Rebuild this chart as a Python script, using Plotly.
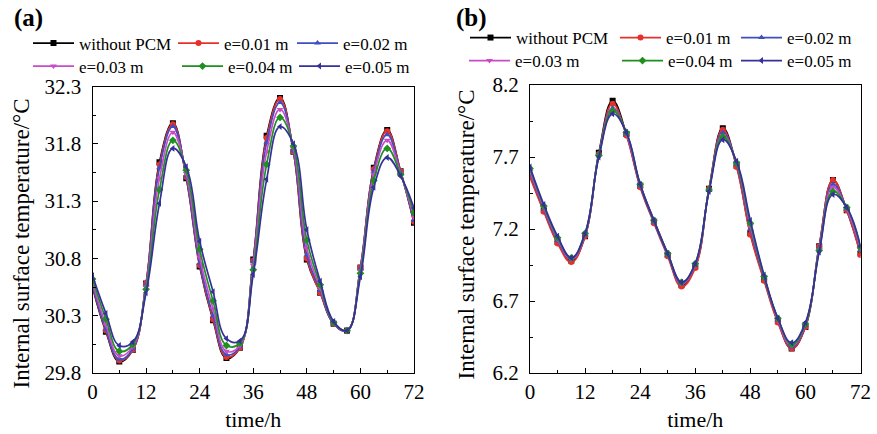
import plotly.graph_objects as go

# ---------------- data ----------------
hours = [0, 3, 6, 9, 12, 15, 18, 21, 24, 27, 30, 33, 36, 39, 42, 45, 48, 51, 54, 57, 60, 63, 66, 69, 72]
names = ["without PCM", "e=0.01 m", "e=0.02 m", "e=0.03 m", "e=0.04 m", "e=0.05 m"]
x_ticks = [0, 12, 24, 36, 48, 60, 72]
ya_ticks = [29.8, 30.3, 30.8, 31.3, 31.8, 32.3]
yb_ticks = [6.2, 6.7, 7.2, 7.7, 8.2]
y_title = "Internal surface temperature/°C"
x_title = "time/h"

# panel (a)
a_none = [30.55, 30.16, 29.90, 30.00, 30.58, 31.64, 31.98, 31.50, 30.73, 30.26, 29.93, 30.02, 30.79,
          31.87, 32.20, 31.73, 30.79, 30.50, 30.23, 30.17, 30.72, 31.59, 31.92, 31.56, 31.11]
a_e01 = [30.56, 30.17, 29.91, 30.00, 30.58, 31.62, 31.97, 31.51, 30.74, 30.27, 29.94, 30.02, 30.78,
         31.85, 32.19, 31.73, 30.80, 30.50, 30.23, 30.17, 30.72, 31.58, 31.91, 31.56, 31.12]
a_e02 = [30.57, 30.18, 29.92, 30.01, 30.57, 31.59, 31.95, 31.52, 30.76, 30.30, 29.96, 30.03, 30.77,
         31.81, 32.16, 31.74, 30.83, 30.52, 30.23, 30.17, 30.71, 31.56, 31.88, 31.55, 31.13]
a_e03 = [30.59, 30.22, 29.95, 30.03, 30.55, 31.50, 31.90, 31.54, 30.81, 30.36, 29.99, 30.04, 30.74,
         31.73, 32.10, 31.76, 30.89, 30.54, 30.24, 30.17, 30.69, 31.53, 31.83, 31.54, 31.16]
a_e04 = [30.62, 30.27, 29.99, 30.05, 30.53, 31.40, 31.83, 31.57, 30.88, 30.43, 30.04, 30.06, 30.70,
         31.62, 32.03, 31.78, 30.96, 30.57, 30.24, 30.17, 30.67, 31.48, 31.76, 31.53, 31.20]
a_e05 = [30.65, 30.32, 30.04, 30.07, 30.50, 31.28, 31.76, 31.60, 30.95, 30.51, 30.10, 30.08, 30.66,
         31.49, 31.95, 31.80, 31.05, 30.60, 30.25, 30.17, 30.64, 31.42, 31.68, 31.52, 31.24]

# panel (b)
b_none = [7.57, 7.33, 7.11, 6.98, 7.15, 7.73, 8.09, 7.86, 7.50, 7.25, 7.02, 6.81, 6.94,
          7.48, 7.90, 7.64, 7.17, 6.85, 6.56, 6.37, 6.52, 7.08, 7.54, 7.33, 7.03]
b_e01 = [7.56, 7.32, 7.10, 6.97, 7.15, 7.72, 8.07, 7.85, 7.49, 7.24, 7.01, 6.80, 6.93,
         7.48, 7.89, 7.63, 7.16, 6.84, 6.55, 6.37, 6.52, 7.08, 7.54, 7.33, 7.02]
b_e02 = [7.59, 7.34, 7.12, 6.99, 7.16, 7.72, 8.04, 7.86, 7.50, 7.25, 7.02, 6.82, 6.95,
         7.47, 7.87, 7.65, 7.20, 6.86, 6.57, 6.38, 6.53, 7.07, 7.51, 7.34, 7.05]
b_e03 = [7.60, 7.35, 7.13, 6.99, 7.16, 7.71, 8.03, 7.86, 7.51, 7.26, 7.03, 6.82, 6.95,
         7.47, 7.85, 7.66, 7.22, 6.87, 6.57, 6.39, 6.54, 7.06, 7.49, 7.34, 7.06]
b_e04 = [7.62, 7.36, 7.14, 7.00, 7.17, 7.71, 8.02, 7.87, 7.51, 7.26, 7.03, 6.83, 6.96,
         7.47, 7.84, 7.66, 7.24, 6.87, 6.58, 6.40, 6.54, 7.05, 7.46, 7.35, 7.07]
b_e05 = [7.63, 7.37, 7.15, 7.00, 7.17, 7.70, 8.00, 7.87, 7.51, 7.26, 7.03, 6.83, 6.96,
         7.46, 7.82, 7.67, 7.26, 6.88, 6.58, 6.41, 6.55, 7.04, 7.44, 7.35, 7.08]

# ---------------- style ----------------
W, H = 877, 434
colors = ["#000000", "#e8302a", "#3f4fc0", "#c84cc8", "#1f8f1f", "#35309a"]
symbols = ["square", "circle", "triangle-up", "triangle-down", "diamond", "triangle-left"]
FONT = "Times New Roman, Liberation Serif, serif"

# legend item positions (px: left, top) for each series, per panel
leg_pos_a = [(28, 25.5), (173, 25.5), (292, 25.5), (28, 48.5), (177, 48.5), (294, 48.5)]
leg_pos_b = [(465, 20), (615, 20), (736, 20), (464, 43), (617, 43), (736, 43)]

fig = go.Figure()
layout_legends = {}
panels = [("x", "y", [a_none, a_e01, a_e02, a_e03, a_e04, a_e05], leg_pos_a),
          ("x2", "y2", [b_none, b_e01, b_e02, b_e03, b_e04, b_e05], leg_pos_b)]
k = 0
for xa, ya, series, pos in panels:
    for i, vals in enumerate(series):
        k += 1
        lname = "legend" if k == 1 else f"legend{k}"
        fig.add_trace(go.Scatter(
            x=hours, y=vals, name=names[i], xaxis=xa, yaxis=ya,
            mode="lines+markers", line=dict(color=colors[i], width=1.7, shape="spline", smoothing=1.2),
            marker=dict(symbol=symbols[i], size=6, color=colors[i]),
            legend=lname, showlegend=True))
        px, py = pos[i]
        layout_legends[lname] = dict(
            x=px / W, y=1 - py / H, xanchor="left", yanchor="top",
            orientation="v", bgcolor="rgba(0,0,0,0)", borderwidth=0,
            itemwidth=41, font=dict(family=FONT, size=17, color="black"))

axis_common = dict(
    showgrid=False, zeroline=False, showline=True, linecolor="black", linewidth=1.2,
    mirror=True, ticks="inside", ticklen=5, tickwidth=1, tickcolor="black", automargin=False,
    tickfont=dict(family=FONT, size=21, color="black"),
    minor=dict(ticks="inside", ticklen=3, tickwidth=1, tickcolor="black"),
)

def text_ann(text, x, y, size, angle=0):
    return dict(text=text, x=x / W, y=1 - y / H, xref="paper", yref="paper",
                xanchor="center", yanchor="middle", textangle=angle, showarrow=False,
                font=dict(family=FONT, size=size, color="black"))

fig.update_layout(
    template="none",
    width=W, height=H, autosize=False,
    margin=dict(l=0, r=0, t=0, b=0, autoexpand=False),
    paper_bgcolor="white", plot_bgcolor="white",
    font=dict(family=FONT, color="black"),
    xaxis=dict(axis_common, domain=[92.5 / W, 414 / W], range=[0, 72], tickvals=x_ticks,
               minor=dict(axis_common["minor"], dtick=6), anchor="y",
               title=dict(text=x_title, font=dict(family=FONT, size=22), standoff=8),
               ticklabelstandoff=0),
    yaxis=dict(axis_common, domain=[1 - 373 / H, 1 - 86.5 / H], range=[29.8, 32.3],
               tickvals=ya_ticks, tickformat=".1f", anchor="x",
               minor=dict(axis_common["minor"], tick0=29.8, dtick=0.25),
               ticklabelstandoff=6),
    xaxis2=dict(axis_common, domain=[530 / W, 860.5 / W], range=[0, 72], tickvals=x_ticks,
                minor=dict(axis_common["minor"], dtick=6), anchor="y2",
                title=dict(text=x_title, font=dict(family=FONT, size=22), standoff=8),
                ticklabelstandoff=0),
    yaxis2=dict(axis_common, domain=[1 - 373 / H, 1 - 85 / H], range=[6.2, 8.2],
                tickvals=yb_ticks, tickformat=".1f", anchor="x2",
                minor=dict(axis_common["minor"], tick0=6.2, dtick=0.25),
                ticklabelstandoff=6),
    annotations=[
        text_ann("<b>(a)</b>", 28, 18, 25),
        text_ann("<b>(b)</b>", 471, 18, 25),
        text_ann(y_title, 21, 243.5, 23, -90),
        text_ann(y_title, 466, 234.5, 23, -90),
    ],
    **layout_legends,
)

fig.write_html("out.html",
               config={"displayModeBar": False},
               post_script="document.body.style.margin='0';document.body.style.padding='0';"
                           "document.documentElement.style.overflow='hidden';")
